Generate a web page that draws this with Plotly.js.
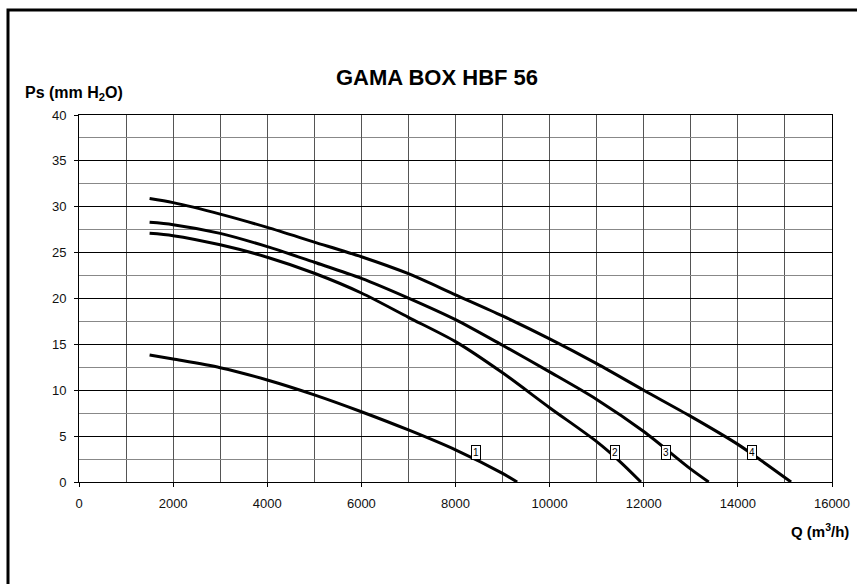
<!DOCTYPE html>
<html>
<head>
<meta charset="utf-8">
<script src="https://cdn.plot.ly/plotly-3.0.1.min.js"></script>
<style>
  html,body{margin:0;padding:0;background:#fff;}
  #chart{width:857px;height:584px;}
</style>
</head>
<body>
<div id="chart"></div>
<script>
// fan curves (Q in m3/h, Ps in mm H2O)
const q1  = [1500, 2000, 3000, 4000, 5000, 6000, 7000, 8000, 9000, 9310];
const ps1 = [13.84, 13.4, 12.46, 11.12, 9.5, 7.66, 5.67, 3.5, 0.94, 0];

const q2  = [1500, 2000, 3000, 4000, 5000, 6000, 7000, 8000, 9000, 10000, 11000, 11500, 11940];
const ps2 = [27.1, 26.85, 25.85, 24.5, 22.75, 20.6, 17.95, 15.3, 11.9, 8.1, 4.4, 2.2, 0];

const q3  = [1500, 2000, 3000, 4000, 5000, 6000, 7000, 8000, 9000, 10000, 11000, 12000, 13000, 13380];
const ps3 = [28.3, 28.05, 27.1, 25.65, 23.95, 22.2, 20.05, 17.7, 14.9, 12.0, 9.0, 5.5, 1.4, 0];

const q4  = [1500, 2000, 3000, 4000, 5000, 6000, 7000, 8000, 9000, 10000, 11000, 12000, 13000, 14000, 15130];
const ps4 = [30.9, 30.45, 29.2, 27.75, 26.15, 24.55, 22.7, 20.4, 18.1, 15.6, 12.9, 10.0, 7.15, 4.1, 0];

// curve number tags
const tagNames = ["1", "2", "3", "4"];
const tagQ     = [8440, 11390, 12475, 14300];
const tagPs    = [3.2, 3.2, 3.2, 3.2];

const FONT = "Liberation Sans, Arial, sans-serif";

function curve(x, y){
  return {
    x, y,
    type: "scatter",
    mode: "lines",
    line: { color: "#000", width: 3, shape: "spline", smoothing: 0.8 },
    hoverinfo: "x+y",
    showlegend: false
  };
}

const tags = tagNames.map((t, i) => ({
  x: tagQ[i], y: tagPs[i], xref: "x", yref: "y",
  text: t, showarrow: false,
  font: { family: FONT, size: 10, color: "#000" },
  bgcolor: "#fff", bordercolor: "#000", borderwidth: 1, borderpad: 1
}));

Plotly.newPlot("chart", [curve(q1, ps1), curve(q2, ps2), curve(q3, ps3), curve(q4, ps4)], {
  width: 857, height: 584,
  margin: { l: 79, r: 25, t: 115, b: 102 },
  paper_bgcolor: "#fff",
  plot_bgcolor: "#fff",
  font: { family: FONT, size: 13, color: "#111" },
  title: {
    text: "<b>GAMA BOX HBF 56</b>",
    font: { family: FONT, size: 22, color: "#000" },
    x: 437/857, xanchor: "center",
    y: 1 - 77/584, yanchor: "middle"
  },
  xaxis: {
    range: [0, 16000], dtick: 2000, tick0: 0, tickformat: "d",
    showgrid: true, gridcolor: "#555", gridwidth: 1,
    minor: { dtick: 1000, showgrid: true, gridcolor: "#555", gridwidth: 1 },
    ticks: "outside", ticklen: 4, tickcolor: "#000", ticklabelstandoff: 5,
    showline: true, mirror: true, linecolor: "#000", linewidth: 1,
    zeroline: false, fixedrange: true
  },
  yaxis: {
    range: [0, 40], dtick: 5, tick0: 0,
    showgrid: true, gridcolor: "#000", gridwidth: 1,
    minor: { dtick: 2.5, showgrid: true, gridcolor: "#888", gridwidth: 1 },
    ticks: "outside", ticklen: 4, tickcolor: "#000", ticklabelstandoff: 5,
    showline: true, mirror: true, linecolor: "#000", linewidth: 1,
    zeroline: false, fixedrange: true
  },
  annotations: tags.concat([
    {
      xref: "paper", yref: "paper",
      x: (23 - 79) / 753, y: 1 + (115 - 93) / 367,
      xanchor: "left", yanchor: "middle",
      text: "<b>Ps (mm H<sub>2</sub>O)</b>", showarrow: false,
      font: { family: FONT, size: 16, color: "#000" }
    },
    {
      xref: "paper", yref: "paper",
      x: (851 - 79) / 753, y: -(530 - 482) / 367,
      xanchor: "right", yanchor: "middle",
      text: "<b>Q (m<sup>3</sup>/h)</b>", showarrow: false,
      font: { family: FONT, size: 15, color: "#000" }
    }
  ]),
  shapes: [
    {
      type: "rect", xref: "paper", yref: "paper",
      x0: (8 - 79) / 753, x1: 2,
      y0: -2, y1: 1 + (115 - 10) / 367,
      line: { color: "#000", width: 3 },
      fillcolor: "rgba(0,0,0,0)", layer: "below"
    }
  ]
}, { displayModeBar: false, responsive: false });
</script>
</body>
</html>
